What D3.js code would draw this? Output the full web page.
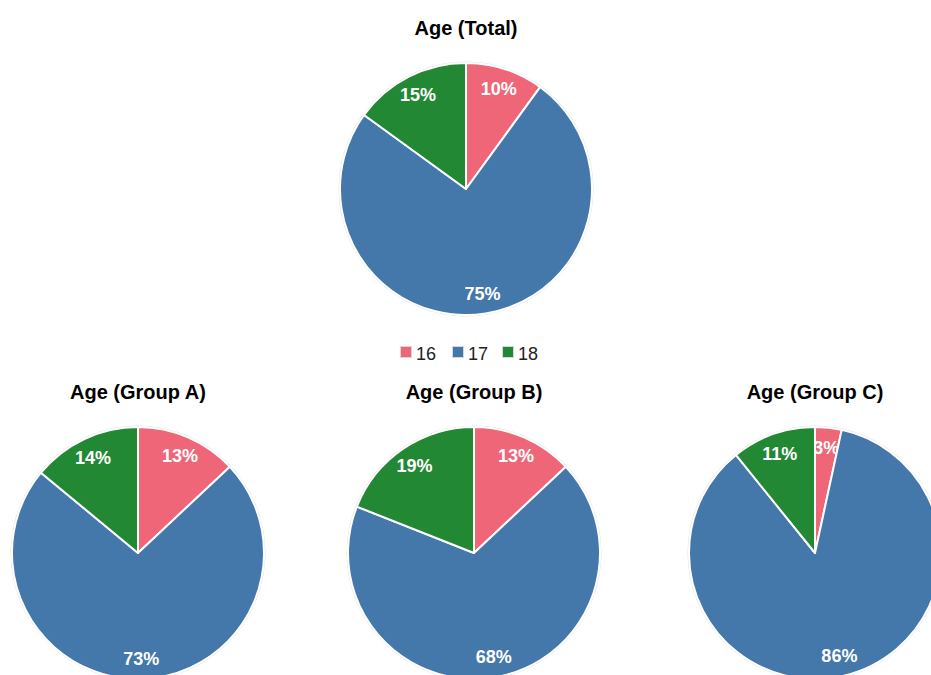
<!DOCTYPE html>
<html>
<head>
<meta charset="utf-8">
<script src="https://cdn.jsdelivr.net/npm/d3@7"></script>
<style>
  body { margin: 0; background: #fff; }
  svg { display: block; font-family: "Liberation Sans", Arial, sans-serif; }
</style>
</head>
<body>
<svg id="chart" width="931" height="675"></svg>
<script>
// categories (legend) and colours
const categories = ["16", "17", "18"];
const colors = ["#EE6677", "#4477AA", "#228833"];

// one small array per pie (percent shares)
const chartTitles = ["Age (Total)", "Age (Group A)", "Age (Group B)", "Age (Group C)"];
const totalValues = [10, 75, 15];
const groupAValues = [13, 73, 14];
const groupBValues = [13, 68, 19];
const groupCValues = [3.4, 85.8, 10.8];

const pies = [
  { title: chartTitles[0], values: totalValues, cx: 466, cy: 189 },
  { title: chartTitles[1], values: groupAValues, cx: 138, cy: 553 },
  { title: chartTitles[2], values: groupBValues, cx: 474, cy: 553 },
  { title: chartTitles[3], values: groupCValues, cx: 815, cy: 553 }
];

const svg = d3.select("#chart");
const radius = 126;
const color = d3.scaleOrdinal().domain(categories).range(colors);

const pie = d3.pie().sort(null).value(d => d.value);
const arc = d3.arc().innerRadius(0).outerRadius(radius);
const labelArc = d3.arc().innerRadius(radius * 0.84).outerRadius(radius * 0.84);

pies.forEach(p => {
  const data = categories.map((c, i) => ({ cat: c, value: p.values[i] }));
  const total = d3.sum(data, d => d.value);

  const g = svg.append("g").attr("transform", `translate(${p.cx},${p.cy})`);

  g.append("circle")
    .attr("r", radius + 1)
    .attr("fill", "none")
    .attr("stroke", "#e4e4e4")
    .attr("stroke-width", 1);

  const slices = g.selectAll(".slice")
    .data(pie(data))
    .join("g")
    .attr("class", "slice");

  slices.append("path")
    .attr("d", arc)
    .attr("fill", d => color(d.data.cat))
    .attr("stroke", "#fff")
    .attr("stroke-width", 2)
    .attr("stroke-linejoin", "round");

  slices.append("text")
    .attr("transform", d => `translate(${labelArc.centroid(d)})`)
    .attr("text-anchor", "middle")
    .attr("dy", "0.36em")
    .attr("fill", "#fff")
    .style("font-size", "18px")
    .style("font-weight", "bold")
    .text(d => Math.round(d.data.value / total * 100) + "%");

  svg.append("text")
    .attr("x", p.cx)
    .attr("y", p.cy - radius - 28)
    .attr("text-anchor", "middle")
    .attr("fill", "#000")
    .style("font-size", "20px")
    .style("font-weight", "bold")
    .text(p.title);
});

// legend
const legendX = [400, 452, 502];
const legend = svg.append("g").attr("transform", "translate(0,353)");
categories.forEach((c, i) => {
  legend.append("rect")
    .attr("x", legendX[i] + 0.5)
    .attr("y", -6.5)
    .attr("width", 11)
    .attr("height", 11)
    .attr("fill", color(c))
    .attr("stroke", "#d8d8d8")
    .attr("stroke-width", 1);
  legend.append("text")
    .attr("x", legendX[i] + 16)
    .attr("y", 6.5)
    .attr("fill", "#222")
    .style("font-size", "18px")
    .text(c);
});
</script>
</body>
</html>
